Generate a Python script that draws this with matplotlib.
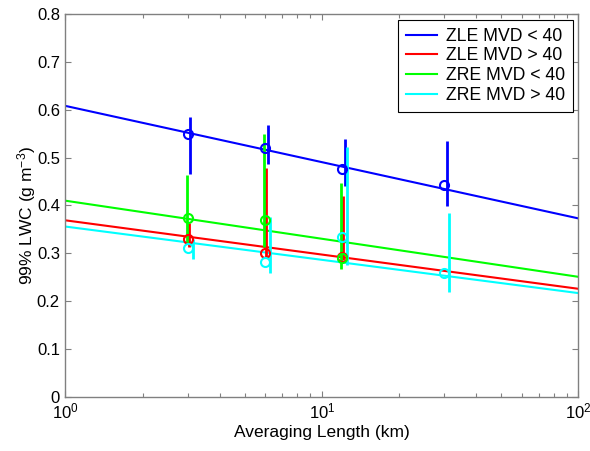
import matplotlib
matplotlib.use("Agg")
import matplotlib.pyplot as plt
from matplotlib.ticker import LogLocator, NullFormatter
import numpy as np

plt.rcParams['font.family'] = ['Liberation Sans', 'DejaVu Sans']
plt.rcParams['mathtext.fontset'] = 'custom'
plt.rcParams['mathtext.rm'] = 'Liberation Sans'
plt.rcParams['mathtext.it'] = 'Liberation Sans:italic'
plt.rcParams['mathtext.bf'] = 'Liberation Sans:bold'

# ---- data ----
labels = ['ZLE MVD < 40', 'ZLE MVD > 40', 'ZRE MVD < 40', 'ZRE MVD > 40']
colors = ['#0000ff', '#ff0000', '#00ff00', '#00ffff']

# fitted lines (endpoints at 1 km and 100 km)
fit_x = [1, 100]
fit_zle_lt = [0.608, 0.373]
fit_zle_gt = [0.369, 0.226]
fit_zre_lt = [0.410, 0.251]
fit_zre_gt = [0.356, 0.217]

# measured points
x_zle_lt = [3, 6, 12, 30]
y_zle_lt = [0.549, 0.520, 0.476, 0.442]
lo_zle_lt = [0.466, 0.487, 0.441, 0.399]
hi_zle_lt = [0.585, 0.568, 0.538, 0.534]

x_zle_gt = [3, 6, 12]
y_zle_gt = [0.329, 0.300, 0.293]
lo_zle_gt = [0.314, 0.290, 0.286]
hi_zle_gt = [0.363, 0.478, 0.420]

x_zre_lt = [3, 6, 12]
y_zre_lt = [0.373, 0.370, 0.290]
lo_zre_lt = [0.321, 0.314, 0.267]
hi_zre_lt = [0.464, 0.550, 0.446]

x_zre_gt = [3, 6, 12, 30]
y_zre_gt = [0.311, 0.283, 0.335, 0.259]
lo_zre_gt = [0.288, 0.260, 0.276, 0.220]
hi_zre_gt = [0.330, 0.377, 0.522, 0.384]

yticks = [0, 0.1, 0.2, 0.3, 0.4, 0.5, 0.6, 0.7, 0.8]
ytick_labels = ['0', '0.1', '0.2', '0.3', '0.4', '0.5', '0.6', '0.7', '0.8']
xticks = [1, 10, 100]
xtick_labels = [r'$10^{0}$', r'$10^{1}$', r'$10^{2}$']

# ---- figure ----
fig = plt.figure(figsize=(5.90, 4.51), dpi=100)
ax = fig.add_axes([0.111, 0.1197, 0.8695, 0.8493])
ax.set_xscale('log')

fits = [fit_zle_lt, fit_zle_gt, fit_zre_lt, fit_zre_gt]
series = [
    (x_zle_lt, y_zle_lt, lo_zle_lt, hi_zle_lt),
    (x_zle_gt, y_zle_gt, lo_zle_gt, hi_zle_gt),
    (x_zre_lt, y_zre_lt, lo_zre_lt, hi_zre_lt),
    (x_zre_gt, y_zre_gt, lo_zre_gt, hi_zre_gt),
]
bar_offset = [1.022, 1.008, 0.992, 1.045]  # small horizontal shift of error bars

lw = 1.5
for fy, c, lab in zip(fits, colors, labels):
    ax.plot(fit_x, fy, color=c, lw=lw, label=lab, zorder=2)

for (xs, ys, lo, hi), c, off in zip(series, colors, bar_offset):
    xb = np.array(xs, dtype=float) * off
    ax.vlines(xb, lo, hi, color=c, lw=2.0, zorder=3)
    ax.plot(xs, ys, linestyle='none', marker='o', markersize=6.5,
            markerfacecolor='none', markeredgecolor=c, markeredgewidth=1.5, zorder=4)

ax.set_xlim(1, 100)
ax.set_ylim(0, 0.8)
ax.set_yticks(yticks)
ax.set_yticklabels(ytick_labels)
ax.set_xticks(xticks)
ax.set_xticklabels(xtick_labels)
ax.xaxis.set_minor_locator(LogLocator(base=10, subs=np.arange(2, 10)))
ax.xaxis.set_minor_formatter(NullFormatter())

spine_c = '#808080'
for s in ax.spines.values():
    s.set_color(spine_c)
    s.set_linewidth(1.0)
ax.tick_params(which='both', direction='in', top=True, right=True, color=spine_c,
               labelsize=12, labelcolor='black')
ax.tick_params(which='major', length=4.5, width=0.8)
ax.tick_params(which='minor', length=3, width=0.8)
ax.tick_params(axis='y', pad=4)
ax.tick_params(axis='x', pad=3)

ax.set_xlabel('Averaging Length (km)', fontsize=12.5, labelpad=2.5)
ax.set_ylabel(r'99% LWC (g m$^{-3}$)', fontsize=12.5)
ax.yaxis.set_label_coords(-0.053, 0.475)

leg = ax.legend(loc='upper right', fontsize=12.7, frameon=True, fancybox=False,
                edgecolor='black', framealpha=1, borderaxespad=0.33,
                handlelength=1.75, handletextpad=0.5, labelspacing=0.15,
                borderpad=0.45)
leg.get_frame().set_linewidth(0.8)

fig.savefig('out.png', dpi=100)
